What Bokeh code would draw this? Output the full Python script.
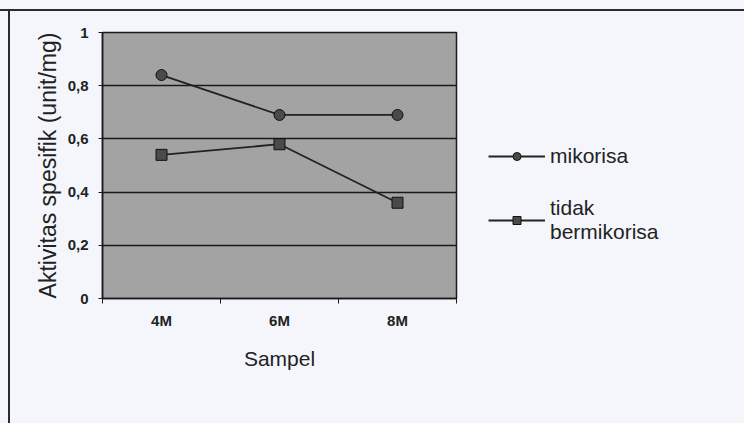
from bokeh.plotting import figure
from bokeh.models import FixedTicker, Legend, LegendItem, Range1d
from bokeh.embed import file_html
from bokeh.resources import INLINE

# data
categories = ["4M", "6M", "8M"]
mikorisa = [0.84, 0.69, 0.69]
tidak_bermikorisa = [0.54, 0.58, 0.36]
y_ticks = [0, 0.2, 0.4, 0.6, 0.8, 1]
y_tick_labels = ["0", "0,2", "0,4", "0,6", "0,8", "1"]
series_names = ["mikorisa", "tidak\nbermikorisa"]

x_pos = [i + 0.5 for i in range(len(categories))]

FONT = "Liberation Sans"
BG = "#f4f6fb"
INK = "#2a2a2a"
TXT = "#222222"

p = figure(frame_width=354, frame_height=266, output_backend="svg", toolbar_location=None,
           x_range=Range1d(0, len(categories)), y_range=Range1d(0, 1))
p.min_border_left = 102
p.min_border_top = 32
p.min_border_right = 288
p.min_border_bottom = 125
p.border_fill_color = None
p.styles = {
    "background": (f"linear-gradient({INK},{INK}) 0 9px / 100% 2px no-repeat, "
                   f"linear-gradient({INK},{INK}) 8px 9px / 2px 100% no-repeat, {BG}")
}
p.background_fill_color = "#a3a3a3"
p.outline_line_color = "#1a1a1a"
p.outline_line_width = 1.5

# x axis
p.xaxis.ticker = FixedTicker(ticks=x_pos, minor_ticks=list(range(len(categories) + 1)))
p.xaxis.major_label_overrides = {x: c for x, c in zip(x_pos, categories)}
p.xaxis.major_tick_line_color = None
p.xaxis.major_tick_out = 0
p.xaxis.major_tick_in = 0
p.xaxis.minor_tick_line_color = "#1a1a1a"
p.xaxis.minor_tick_out = 5
p.xaxis.minor_tick_in = 0
p.xaxis.axis_line_color = "#1a1a1a"
p.xaxis.axis_line_width = 1.5
p.xaxis.major_label_text_font = FONT
p.xaxis.major_label_text_font_size = "15px"
p.xaxis.major_label_text_font_style = "bold"
p.xaxis.major_label_text_color = TXT
p.xaxis.major_label_standoff = 8
p.xaxis.axis_label = "Sampel"
p.xaxis.axis_label_text_font = FONT
p.xaxis.axis_label_text_font_size = "21px"
p.xaxis.axis_label_text_font_style = "normal"
p.xaxis.axis_label_text_color = TXT
p.xaxis.axis_label_standoff = 15

# y axis
p.yaxis.ticker = FixedTicker(ticks=y_ticks)
p.yaxis.major_label_overrides = {t: l for t, l in zip(y_ticks, y_tick_labels)}
p.yaxis.minor_tick_line_color = None
p.yaxis.major_tick_line_color = "#1a1a1a"
p.yaxis.major_tick_out = 4
p.yaxis.major_tick_in = 0
p.yaxis.axis_line_color = "#1a1a1a"
p.yaxis.axis_line_width = 1.5
p.yaxis.major_label_text_font = FONT
p.yaxis.major_label_text_font_size = "15px"
p.yaxis.major_label_text_font_style = "bold"
p.yaxis.major_label_text_color = TXT
p.yaxis.major_label_standoff = 10
p.yaxis.axis_label = "Aktivitas spesifik (unit/mg)"
p.yaxis.axis_label_text_font = FONT
p.yaxis.axis_label_text_font_size = "23px"
p.yaxis.axis_label_text_font_style = "normal"
p.yaxis.axis_label_text_color = TXT
p.yaxis.axis_label_standoff = 4

p.xgrid.grid_line_color = None
p.ygrid.ticker = FixedTicker(ticks=y_ticks)
p.ygrid.grid_line_color = "#1a1a1a"
p.ygrid.grid_line_width = 1.4

l1 = p.line(x_pos, mikorisa, line_color="#222222", line_width=1.8)
m1 = p.scatter(x_pos, mikorisa, marker="circle", size=11, fill_color="#4a4a4a",
               line_color="#111111", line_width=1)
l2 = p.line(x_pos, tidak_bermikorisa, line_color="#222222", line_width=1.8)
m2 = p.scatter(x_pos, tidak_bermikorisa, marker="square", size=11, fill_color="#4a4a4a",
               line_color="#111111", line_width=1)

legend = Legend(items=[LegendItem(label=series_names[0], renderers=[l1, m1]),
                       LegendItem(label=series_names[1], renderers=[l2, m2])],
                location=(32, 54))
legend.background_fill_alpha = 0
legend.border_line_color = None
legend.label_text_font = FONT
legend.label_text_font_size = "21px"
legend.label_text_color = TXT
legend.glyph_width = 57
legend.label_standoff = 5
legend.spacing = 28
p.add_layout(legend, "right")

open("out.html", "w").write(file_html(p, INLINE))
